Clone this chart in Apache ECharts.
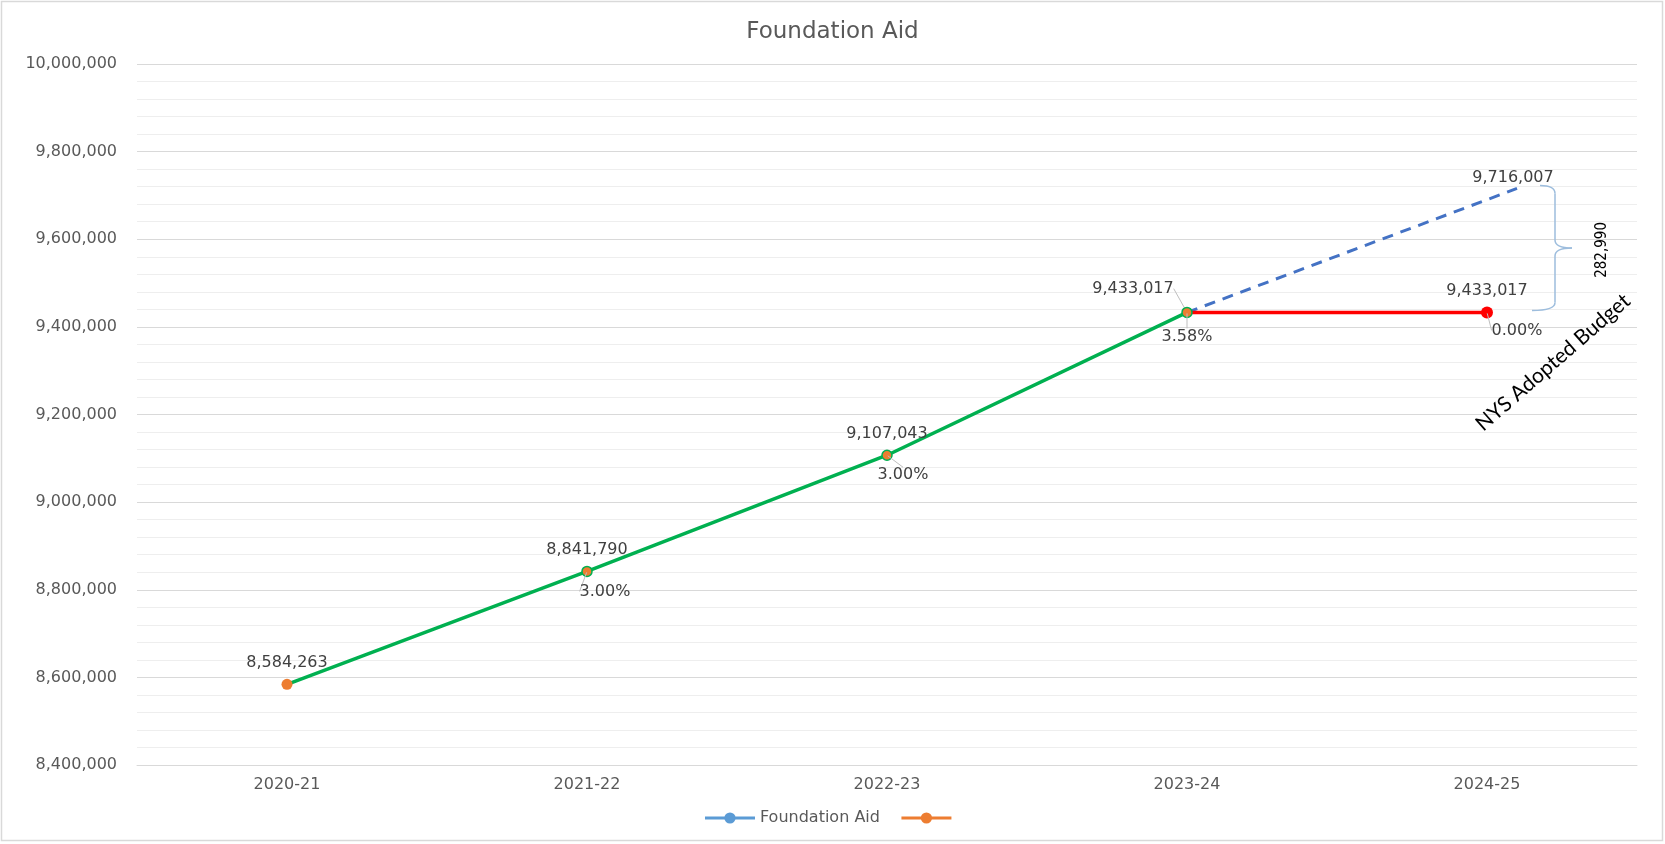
<!DOCTYPE html>
<html><head><meta charset="utf-8">
<script src="https://cdn.jsdelivr.net/npm/echarts@6/dist/echarts.min.js"></script>
<style>html,body{margin:0;padding:0;background:#fff}#c{width:1665px;height:844px}</style>
</head><body><div id="c"></div>
<script>
// ---- data ----
const categories = ['2020-21', '2021-22', '2022-23', '2023-24', '2024-25'];
const aidValues = [8584263, 8841790, 9107043, 9433017, null];
const adoptedValues = [null, null, null, 9433017, 9433017];
const projectedX = [3, 4.1];
const projectedValues = [9433017, 9716007];
const pctLabels = ['', '3.00%', '3.00%', '3.58%', '0.00%'];
const gapLabel = '282,990';
const noteLabel = 'NYS Adopted Budget';
const yMin = 8400000, yMax = 10000000, yStep = 200000;

(function () {
// ---- styling ----
const FONT = "'DejaVu Sans', 'Open Sans', sans-serif";
const GREEN = '#00B050', ORANGE = '#ED7D31', RED = '#FF0000', BLUE = '#4472C4', LBLUE = '#5B9BD5';
const fmt = v => Number(v).toLocaleString('en-US');
const lblStyle = { color: '#404040', fontSize: 16, fontFamily: FONT };
const leader = { show: true, lineStyle: { color: '#bfbfbf', width: 1 } };
const pctOffsets = [[0, 0], [18, 6], [16, 6], [0, 10], [30, 4]];

const chart = echarts.init(document.getElementById('c'));

const pctBase = aidValues.map((v, i) => v != null ? v : adoptedValues[i]);

const option = {
  animation: false,
  backgroundColor: '#ffffff',
  title: {
    text: 'Foundation Aid', left: 'center', top: 16,
    textStyle: { color: '#595959', fontSize: 23, fontWeight: 'normal', fontFamily: FONT }
  },
  legend: {
    bottom: 13, left: 'center', itemWidth: 50, itemHeight: 14, itemGap: 20,
    textStyle: { color: '#595959', fontSize: 16, fontFamily: FONT },
    data: [
      { name: 'Foundation Aid', itemStyle: { color: LBLUE, borderWidth: 0 }, lineStyle: { color: LBLUE, width: 3 } },
      { name: ' ', itemStyle: { color: ORANGE, borderWidth: 0, opacity: 1 }, lineStyle: { color: ORANGE, width: 3, opacity: 1 } }
    ]
  },
  grid: { left: 137, right: 28, top: 64, bottom: 79, containLabel: false },
  xAxis: [
    {
      type: 'category', data: categories, boundaryGap: true,
      axisLine: { lineStyle: { color: '#d9d9d9' } }, axisTick: { show: false },
      axisLabel: { color: '#595959', fontSize: 16, fontFamily: FONT, margin: 12 }
    },
    { type: 'value', min: -0.5, max: 4.5, show: false }
  ],
  yAxis: {
    type: 'value', min: yMin, max: yMax, interval: yStep,
    axisLine: { show: false }, axisTick: { show: false },
    axisLabel: { color: '#595959', fontSize: 16, fontFamily: FONT, margin: 20, formatter: v => fmt(v) },
    splitLine: { lineStyle: { color: '#d9d9d9', width: 1 } },
    minorTick: { show: false, splitNumber: 5 },
    minorSplitLine: { show: true, lineStyle: { color: '#eeeeee', width: 1 } }
  },
  series: [
    {
      name: 'Projected', type: 'line', xAxisIndex: 1, z: 2, silent: true,
      data: projectedX.map((x, i) => ({
        value: [x, projectedValues[i]],
        label: i === projectedX.length - 1 ? { show: true } : { show: false }
      })),
      symbol: 'circle', symbolSize: 1, itemStyle: { color: 'rgba(0,0,0,0)' },
      lineStyle: { color: BLUE, width: 3, type: [11, 8] },
      label: Object.assign({ position: 'top', distance: 2, offset: [-4, 0], formatter: p => fmt(p.value[1]) }, lblStyle)
    },
    {
      name: 'NYS Adopted', type: 'line', z: 3, silent: true,
      data: adoptedValues.map((v, i) => v == null ? null :
        (i === 3 ? { value: v, symbol: 'none', label: { show: false } } : { value: v, symbolSize: 12 })),
      symbol: 'circle', itemStyle: { color: RED },
      lineStyle: { color: RED, width: 3.5 },
      label: Object.assign({ show: true, position: 'top', distance: 8, formatter: p => fmt(p.value) }, lblStyle)
    },
    {
      name: 'Foundation Aid', type: 'line', z: 4, silent: true,
      data: aidValues.map((v, i) => v == null ? null :
        (i === 3 ? { value: v, labelLine: leader } :
         i === 0 ? { value: v, symbolSize: 11, itemStyle: { borderWidth: 0 } } : { value: v })),
      symbol: 'circle', symbolSize: 10,
      itemStyle: { color: ORANGE, borderColor: GREEN, borderWidth: 1.5 },
      lineStyle: { color: GREEN, width: 3.5 },
      label: Object.assign({ show: true, position: 'top', distance: 8, formatter: p => fmt(p.value) }, lblStyle),
      labelLayout: p => p.dataIndex === 3 ? { dx: -54, dy: -2 } : {}
    },
    {
      name: ' ', type: 'line', z: 5, silent: true,
      data: pctBase.map((v, i) => i === 0 ? { value: v } : { value: v, labelLine: leader }),
      symbol: 'circle', symbolSize: 2,
      itemStyle: { color: 'rgba(0,0,0,0)' },
      lineStyle: { width: 0, opacity: 0 },
      label: Object.assign({ show: true, position: 'bottom', distance: 5, formatter: p => pctLabels[p.dataIndex] }, lblStyle),
      labelLayout: p => ({ dx: pctOffsets[p.dataIndex][0], dy: pctOffsets[p.dataIndex][1] })
    }
  ]
};

chart.setOption(option);

// ---- annotations placed from the axis scales ----
const pTop = chart.convertToPixel({ xAxisIndex: 1, yAxisIndex: 0 }, [projectedX[1], projectedValues[1]]);
const pBot = chart.convertToPixel({ xAxisIndex: 0, yAxisIndex: 0 }, [4, adoptedValues[4]]);
const xs = pBot[0] + 68, xl = xs - 15, xt = xs + 17;
const yT = pTop[1] - 3, yB = pBot[1] - 2, yM = (yT + yB) / 2, r = 8;
const braceStyle = { fill: 'none', stroke: '#9DBDDD', lineWidth: 1.5 };
const curve = (x1, y1, cx, cy, x2, y2) => ({ type: 'bezierCurve', silent: true,
  shape: { x1: x1, y1: y1, cpx1: cx, cpy1: cy, x2: x2, y2: y2 }, style: braceStyle });
const seg = (x1, y1, x2, y2) => ({ type: 'line', silent: true,
  shape: { x1: x1, y1: y1, x2: x2, y2: y2 }, style: braceStyle });

chart.setOption({
  graphic: [
    { type: 'rect', silent: true, shape: { x: 1.5, y: 1.5, width: 1661, height: 839 },
      style: { fill: 'none', stroke: '#d9d9d9', lineWidth: 1.5 } },
    curve(xl, yT, xs, yT, xs, yT + r),
    seg(xs, yT + r, xs, yM - r),
    curve(xs, yM - r, xs, yM, xt, yM),
    curve(xt, yM, xs, yM, xs, yM + r),
    seg(xs, yM + r, xs, yB - r),
    curve(xs, yB - r, xs, yB, xl - 8, yB),
    { type: 'text', silent: true, x: xs + 47, y: yM + 2, rotation: Math.PI / 2,
      style: { text: gapLabel, fill: '#000', font: "15px 'Liberation Sans Narrow', 'DejaVu Sans Condensed', sans-serif",
               align: 'center', verticalAlign: 'middle' } },
    { type: 'text', silent: true, x: pBot[0] + 66, y: pBot[1] + 50, rotation: 41 * Math.PI / 180,
      style: { text: noteLabel, fill: '#000', font: "21px Lato, 'Open Sans', sans-serif",
               align: 'center', verticalAlign: 'middle' } }
  ]
});
})();
</script>
</body></html>
